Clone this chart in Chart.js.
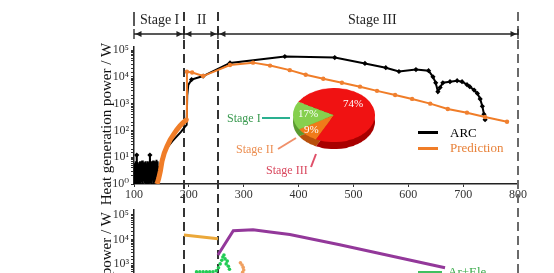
<!DOCTYPE html>
<html><head><meta charset="utf-8">
<script src="https://cdn.jsdelivr.net/npm/chart.js@4.4.0/dist/chart.umd.min.js"></script>
<style>
html,body{margin:0;padding:0;background:#fff;}
body{width:554px;height:273px;overflow:hidden;position:relative;font-family:"Liberation Serif","DejaVu Serif",serif;}
.t{position:absolute;white-space:nowrap;line-height:1;}
.ln{position:absolute;}
</style></head><body>
<canvas id="top" width="554" height="273" style="position:absolute;left:0;top:0;width:554px;height:273px"></canvas>
<canvas id="bot" width="554" height="200" style="position:absolute;left:0;top:200px;width:554px;height:200px"></canvas>
<div style="position:absolute;left:293px;top:95px;width:82px;height:82px;transform:scaleY(0.66);transform-origin:0 0"><canvas id="pie2" width="82" height="82" style="width:82px;height:82px"></canvas></div>
<div style="position:absolute;left:293px;top:88px;width:82px;height:82px;transform:scaleY(0.66);transform-origin:0 0"><canvas id="pie1" width="82" height="82" style="width:82px;height:82px"></canvas></div>

<div class="t" style="left:140px;top:13px;font-size:14px;color:#222">Stage I</div>
<div class="t" style="left:197px;top:13px;font-size:14px;color:#222">II</div>
<div class="t" style="left:348px;top:13px;font-size:14px;color:#222">Stage III</div>

<div class="t" style="left:343px;top:98px;font-size:11px;color:#fff">74%</div>
<div class="t" style="left:298px;top:108px;font-size:11px;color:#fff">17%</div>
<div class="t" style="left:304px;top:124px;font-size:11px;color:#fff">9%</div>

<div class="t" style="left:227px;top:112px;font-size:12px;color:#3a9a50">Stage I</div>
<div class="t" style="left:236px;top:143px;font-size:12px;color:#ec8f52">Stage II</div>
<div class="t" style="left:266px;top:164px;font-size:12px;color:#d9485e">Stage III</div>

<div class="ln" style="left:418px;top:131px;width:20px;height:3px;background:#000"></div>
<div class="t" style="left:450px;top:126px;font-size:13px;color:#000">ARC</div>
<div class="ln" style="left:418px;top:147px;width:20px;height:3px;background:#f07d28"></div>
<div class="t" style="left:450px;top:141px;font-size:13px;color:#e8823a">Prediction</div>

<div class="ln" style="left:418px;top:271px;width:24px;height:3px;background:#40c060"></div>
<div class="t" style="left:448px;top:265px;font-size:13px;color:#3aaa4a">Ar+Ele</div>

<script>
// ---------- data ----------
const stageBounds = [100, 191, 253, 800];
const yTickValues = [1, 10, 100, 1000, 10000, 100000];
const yTickLabels = ['10\u2070','10\u00b9','10\u00b2','10\u00b3','10\u2074','10\u2075'];

// ARC measurement (top panel)
const arcX = [100,101,102,103,104,105,106,107,108,109,110,111,112,113,114,115,116,117,118,119,
  120,121,122,123,124,125,126,127,128,129,130,131,132,133,134,135,136,137,138,139,
  140,141,142,143,144,145,150,155,162,170,178,186,192,196,
  197,199,205,226,275,375,466,521,559,583,614,637,645,650,654,658,663,676,689,698,707,712,720,726,731,735,738,740];
const arcY = [1.2,6,1.0,7,1.3,12,1.1,6.5,1.0,5.5,1.4,7,1.0,6,1.2,7.5,1.0,5,1.3,6.5,
  1.1,7,1.0,6,1.2,7,1.0,6.5,1.3,12,1.1,7,1.0,6,1.4,7.5,1.0,6.5,1.2,7,
  1.0,8,1.3,7,1.2,3,8,15,25,40,60,90,130,160,
  2000,5000,7900,10700,33000,57500,52500,31600,21900,15800,18600,17000,10000,6000,2800,4000,6000,6600,7200,6600,5100,4300,3200,2400,1500,800,400,250];

// Prediction (top panel)
const predX = [142,145,148,151,155,160,166,172,178,184,190,196,
  196.5,206,226,275,317,348,384,413,445,479,512,543,576,607,640,672,707,740,780];
const predY = [1.0,1.6,3,7,14,25,45,70,105,150,200,250,
  15500,14500,10700,27500,33900,26300,17800,12000,8500,6000,4300,3000,2100,1500,1000,630,460,316,210];

// Pie (share of heat by stage)
const pieLabels = ['Stage II','Stage I','Stage III'];
const pieValues = [9, 17, 74];

// Bottom panel series
const goldX = [191, 253];
const goldY = [15100, 10500];
const purpleX = [253, 281, 317, 348, 384, 475, 667];
const purpleY = [2300, 22400, 24500, 20000, 15800, 6000, 700];
const greenX = [214,220,226,232,238,244,250,254,257,260,262,264,266,268,270,272,274];
const greenY = [470,470,470,470,470,480,520,700,1000,1400,1900,2300,1600,1000,1300,800,600];
const orDotX = [294,297,299,300,298];
const orDotY = [1100,900,720,560,450];

const pts = (xs, ys) => xs.map((x, i) => ({x, y: ys[i]}));
const FONT = "'Liberation Serif','DejaVu Serif',serif";

function yTickCb(v) {
  const i = yTickValues.indexOf(v);
  if (i >= 0) return yTickLabels[i];
  return v > 100000 ? null : '';
}

// ---------- top chart ----------
const topPlugin = {
  id: 'topAnnot',
  beforeDatasetsDraw(chart) {
    const ctx = chart.ctx, xs = chart.scales.x;
    ctx.save();
    ctx.lineWidth = 2;
    ctx.setLineDash([9, 5]);
    stageBounds.slice(1).forEach((b, i) => {
      const px = Math.round(xs.getPixelForValue(b));
      ctx.strokeStyle = i === 2 ? '#6a6a6a' : '#333';
      ctx.beginPath(); ctx.moveTo(px, 12); ctx.lineTo(px, 273); ctx.stroke();
    });
    ctx.restore();
  },
  afterDraw(chart) {
    const ctx = chart.ctx, xs = chart.scales.x;
    const pxs = stageBounds.map(b => xs.getPixelForValue(b));
    const yA = 34;
    ctx.save();
    ctx.strokeStyle = '#222'; ctx.fillStyle = '#222'; ctx.lineWidth = 1.3;
    ctx.beginPath(); ctx.moveTo(pxs[0], yA); ctx.lineTo(pxs[3], yA); ctx.stroke();
    for (let i = 0; i < 3; i++) {
      const a = pxs[i] + 1.5, b = pxs[i + 1] - 1.5;
      ctx.beginPath(); ctx.moveTo(a, yA); ctx.lineTo(a + 6, yA - 3); ctx.lineTo(a + 6, yA + 3); ctx.closePath(); ctx.fill();
      ctx.beginPath(); ctx.moveTo(b, yA); ctx.lineTo(b - 6, yA - 3); ctx.lineTo(b - 6, yA + 3); ctx.closePath(); ctx.fill();
    }
    pxs.forEach(p => { ctx.beginPath(); ctx.moveTo(p, 29); ctx.lineTo(p, 39); ctx.stroke(); });
    ctx.lineWidth = 1.5;
    ctx.beginPath(); ctx.moveTo(pxs[0], 12); ctx.lineTo(pxs[0], 26); ctx.stroke();
    // callout lines
    ctx.lineWidth = 2;
    ctx.strokeStyle = '#2ab090';
    ctx.beginPath(); ctx.moveTo(262, 118); ctx.lineTo(290, 118); ctx.stroke();
    ctx.strokeStyle = '#f0906a';
    ctx.beginPath(); ctx.moveTo(278, 149); ctx.lineTo(296, 138); ctx.stroke();
    ctx.strokeStyle = '#e0506a';
    ctx.beginPath(); ctx.moveTo(311, 167); ctx.lineTo(316, 154); ctx.stroke();
    // y title
    ctx.fillStyle = '#111';
    ctx.font = "15px " + FONT;
    ctx.translate(107, 124); ctx.rotate(-Math.PI / 2);
    ctx.textAlign = 'center'; ctx.textBaseline = 'middle';
    ctx.fillText('Heat generation power / W', 0, 0);
    ctx.restore();
  }
};

new Chart(document.getElementById('top'), {
  type: 'line',
  data: {
    datasets: [
      {
        label: 'Prediction',
        data: pts(predX, predY),
        borderColor: '#f07d28',
        backgroundColor: '#f07d28',
        borderWidth: 2,
        segment: { borderWidth: c => c.p0.parsed.x < 196 ? 5 : 2 },
        pointRadius: c => (c.raw && c.raw.x >= 196) ? 2.2 : 0,
        pointBackgroundColor: '#f08030',
        pointBorderWidth: 0,
        tension: 0
      },
      {
        label: 'ARC',
        data: pts(arcX, arcY),
        borderColor: '#000',
        backgroundColor: '#000',
        borderWidth: 2,
        pointStyle: 'rectRot',
        pointRadius: c => {
          const r = c.raw; if (!r) return 0;
          if (r.x >= 205) return 2.6;
          if (r.x < 150 && r.y >= 10) return 2.6;
          return 0;
        },
        pointBorderWidth: 0,
        tension: 0
      }
    ]
  },
  options: {
    responsive: false, animation: false, devicePixelRatio: 1,
    layout: { padding: { top: 47, right: 36, left: 0, bottom: 0 } },
    plugins: { legend: { display: false }, tooltip: { enabled: false } },
    scales: {
      x: {
        type: 'linear', min: 100, max: 800,
        ticks: { stepSize: 100, maxRotation: 0, padding: 1, color: '#333', font: { family: FONT, size: 12 } },
        grid: { drawOnChartArea: false, tickLength: 3, color: '#333' },
        border: { color: '#222', width: 1.5 },
        afterFit: s => { s.height = 89; }
      },
      y: {
        type: 'logarithmic', min: 1, max: 130000,
        ticks: { autoSkip: false, padding: 2, color: '#333', font: { family: FONT, size: 12 }, callback: yTickCb },
        grid: { drawOnChartArea: false, tickLength: 3, color: '#333' },
        border: { color: '#222', width: 1.5 },
        afterFit: s => { s.width = 134; }
      }
    }
  },
  plugins: [topPlugin]
});

// ---------- bottom chart ----------
const botPlugin = {
  id: 'botAnnot',
  afterDraw(chart) {
    const ctx = chart.ctx;
    ctx.save();
    ctx.fillStyle = '#111';
    ctx.font = "15px " + FONT;
    ctx.translate(107, 12); ctx.rotate(-Math.PI / 2);
    ctx.textAlign = 'right'; ctx.textBaseline = 'middle';
    ctx.fillText('Heat generation power / W', 0, 0);
    ctx.restore();
  }
};

new Chart(document.getElementById('bot'), {
  type: 'line',
  data: {
    datasets: [
      { label: 'Ar+Ele', data: pts(greenX, greenY), showLine: false, pointRadius: 1.8, pointBackgroundColor: '#22cc55', pointBorderWidth: 0 },
      { label: 'dots', data: pts(orDotX, orDotY), showLine: false, pointRadius: 1.8, pointBackgroundColor: '#f0a060', pointBorderWidth: 0 },
      { label: 'purple', data: pts(purpleX, purpleY), borderColor: '#93389a', borderWidth: 3, pointRadius: 0, tension: 0 },
      { label: 'gold', data: pts(goldX, goldY), borderColor: '#eba83a', borderWidth: 3, pointRadius: 0, tension: 0 }
    ]
  },
  options: {
    responsive: false, animation: false, devicePixelRatio: 1,
    layout: { padding: { top: 10, right: 36, left: 0, bottom: 0 } },
    plugins: { legend: { display: false }, tooltip: { enabled: false } },
    scales: {
      x: {
        type: 'linear', min: 100, max: 800,
        ticks: { stepSize: 100, maxRotation: 0, color: '#333', font: { family: FONT, size: 12 } },
        grid: { drawOnChartArea: false, tickLength: 3, color: '#333' },
        border: { color: '#222', width: 1.5 },
        afterFit: s => { s.height = 62.6; }
      },
      y: {
        type: 'logarithmic', min: 1, max: 158000,
        ticks: { autoSkip: false, padding: 2, color: '#333', font: { family: FONT, size: 12 }, callback: yTickCb },
        grid: { drawOnChartArea: false, tickLength: 3, color: '#333' },
        border: { color: '#222', width: 1.5 },
        afterFit: s => { s.width = 134; }
      }
    }
  },
  plugins: [botPlugin]
});

// ---------- pie ----------
function makePie(id, colors) {
  new Chart(document.getElementById(id), {
    type: 'pie',
    data: { labels: pieLabels, datasets: [{ data: pieValues, backgroundColor: colors, borderWidth: 0 }] },
    options: {
      responsive: false, animation: false, devicePixelRatio: 1, rotation: 206,
      layout: { padding: 0 },
      plugins: { legend: { display: false }, tooltip: { enabled: false } }
    }
  });
}
makePie('pie2', ['#b8500c', '#5a9a30', '#a80000']);
makePie('pie1', ['#f07a1a', '#86d04e', '#f01212']);
</script>
</body></html>
